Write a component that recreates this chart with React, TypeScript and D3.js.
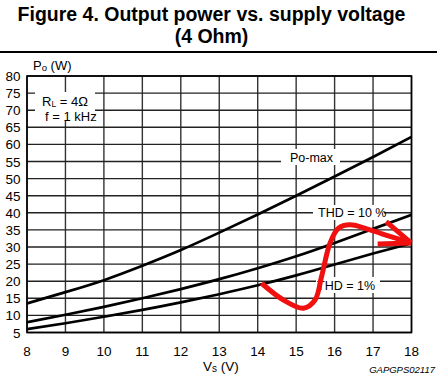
import React from "react";
import * as d3 from "d3";

const W = 437;
const H = 374;

const xTicks = [8, 9, 10, 11, 12, 13, 14, 15, 16, 17, 18];
const yTicks = [5, 10, 15, 20, 25, 30, 35, 40, 45, 50, 55, 60, 65, 70, 75, 80];

const vs = [8, 9, 10, 11, 12, 13, 14, 15, 16, 17, 18];
const poMax = [13.5, 16.8, 20.3, 24.5, 29.1, 34.2, 39.5, 45.0, 50.6, 56.3, 62.2];
const thd10 = [8.0, 10.2, 12.5, 15.0, 17.7, 20.6, 23.8, 27.3, 31.2, 35.3, 39.4];
const thd1 = [6.0, 7.7, 9.6, 11.6, 13.8, 16.2, 18.8, 21.7, 24.9, 28.1, 31.1];

const redPath: [number, number][] = [
  [14.1, 19.4], [14.67, 14.5], [15.19, 12.1], [15.49, 14.5], [15.66, 21.3],
  [15.88, 31.1], [16.1, 35.5], [16.4, 36.5], [16.92, 35.0], [17.44, 33.1], [17.96, 31.3],
];
const arrowUpper: [number, number][] = [[17.34, 37.4], [17.99, 31.2]];
const arrowLower: [number, number][] = [[17.12, 30.9], [17.99, 31.2]];

const FONT = "'Liberation Sans', Arial, sans-serif";

export default function App() {
  const x = d3.scaleLinear().domain([8, 18]).range([27, 411.5]);
  const y = d3.scaleLinear().domain([5, 80]).range([332.5, 76]);

  const curve = d3
    .line<[number, number]>()
    .x((d) => x(d[0]))
    .y((d) => y(d[1]))
    .curve(d3.curveNatural);
  const free = d3
    .line<[number, number]>()
    .x((d) => x(d[0]))
    .y((d) => y(d[1]))
    .curve(d3.curveCatmullRom.alpha(0.5));
  const straight = d3
    .line<[number, number]>()
    .x((d) => x(d[0]))
    .y((d) => y(d[1]));

  const series = [poMax, thd10, thd1].map((s) => vs.map((v, i) => [v, s[i]] as [number, number]));

  return (
    <svg
      width={W}
      height={H}
      style={{ position: "absolute", left: 0, top: 0, background: "#fff" }}
      fontFamily={FONT}
    >
      <rect width={W} height={H} fill="#fff" />
      {/* Title */}
      <text x={211.5} y={21} textAnchor="middle" fontSize={19.5} fontWeight="bold" fill="#000">
        Figure 4. Output power vs. supply voltage
      </text>
      <text x={211.5} y={43} textAnchor="middle" fontSize={19.5} fontWeight="bold" fill="#000">
        (4 Ohm)
      </text>
      <line x1={0} x2={W} y1={52} y2={52} stroke="#000" strokeWidth={1.8} />

      {/* Grid */}
      {xTicks.map((t) => (
        <line key={"gx" + t} x1={x(t)} x2={x(t)} y1={y(80)} y2={y(5)} stroke="#333" strokeWidth={1.4} />
      ))}
      {yTicks.map((t) => (
        <line key={"gy" + t} x1={x(8)} x2={x(18)} y1={y(t)} y2={y(t)} stroke="#222" strokeWidth={1.4} />
      ))}
      <rect x={x(8)} y={y(80)} width={x(18) - x(8)} height={y(5) - y(80)} fill="none" stroke="#000" strokeWidth={1.6} />

      {/* Label boxes */}
      <rect x={35} y={92} width={60} height={29} fill="#fff" />
      <rect x={281} y={149} width={59} height={16} fill="#fff" />
      <rect x={313} y={205} width={71} height={15} fill="#fff" />
      <rect x={316} y={277} width={64} height={16} fill="#fff" />

      <text x={42} y={105.5} fontSize={13} fill="#000">
        R<tspan fontSize={8.5} dy={1.5}>L</tspan>
        <tspan dy={-1.5}> = 4Ω</tspan>
      </text>
      <text x={45} y={120.5} fontSize={13} fill="#000">f = 1 kHz</text>
      <text x={290} y={161.5} fontSize={12.5} fill="#000">Po-max</text>
      <text x={318} y={217} fontSize={12.5} fill="#000">THD = 10 %</text>
      <text x={317} y={290} fontSize={12.5} fill="#000">THD = 1%</text>

      {/* Curves */}
      {series.map((s, i) => (
        <path key={"s" + i} d={curve(s) || ""} fill="none" stroke="#000" strokeWidth={2.7} />
      ))}

      {/* Red annotation */}
      <path d={free(redPath) || ""} fill="none" stroke="#f01010" strokeWidth={5} strokeLinecap="butt" strokeLinejoin="round" />
      <path d={straight(arrowUpper) || ""} fill="none" stroke="#f01010" strokeWidth={5} />
      <path d={straight(arrowLower) || ""} fill="none" stroke="#f01010" strokeWidth={5} />

      {/* Y axis tick labels */}
      {yTicks.map((t) => (
        <text key={"ty" + t} x={20.5} y={y(t) + 5} textAnchor="end" fontSize={13.5} fill="#000">
          {t}
        </text>
      ))}
      {/* X axis tick labels */}
      {xTicks.map((t) => (
        <text key={"tx" + t} x={x(t)} y={355.5} textAnchor="middle" fontSize={13.5} fill="#000">
          {t}
        </text>
      ))}

      <text x={33} y={70} fontSize={13} fill="#000">
        P<tspan fontSize={9.5} dy={1}>o</tspan>
        <tspan dy={-1}> (W)</tspan>
      </text>
      <text x={203} y={371} fontSize={13.5} fill="#000">
        V<tspan fontSize={10} dy={1}>s</tspan>
        <tspan dy={-1}> (V)</tspan>
      </text>
      <text x={435} y={372.5} textAnchor="end" fontSize={9.5} fontStyle="italic" fill="#000">
        GAPGPS02117
      </text>
    </svg>
  );
}
